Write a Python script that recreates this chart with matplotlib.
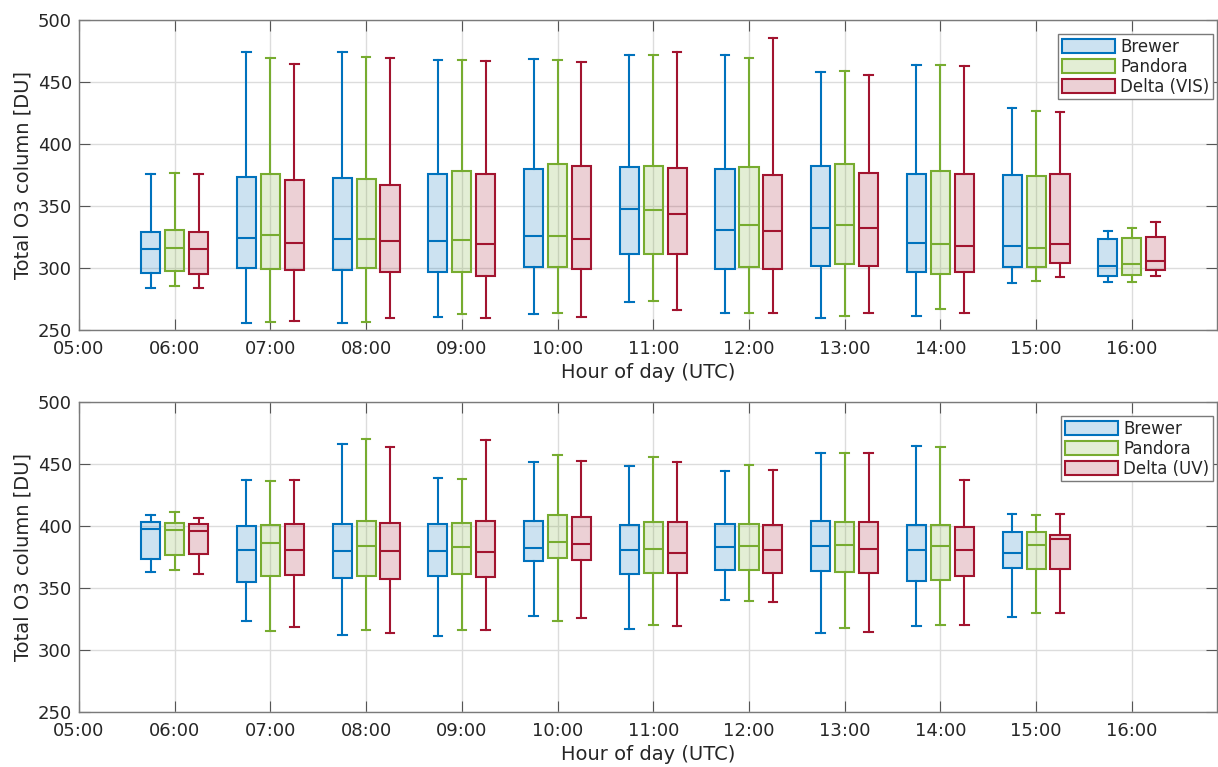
import matplotlib
matplotlib.use("Agg")
import matplotlib.pyplot as plt
from matplotlib.patches import Patch

# ---------------- data (whislo, q1, median, q3, whishi) ----------------
series_names = ["Brewer", "Pandora"]
vis_hours = [6, 7, 8, 9, 10, 11, 12, 13, 14, 15, 16]
uv_hours = [6, 7, 8, 9, 10, 11, 12, 13, 14, 15]

vis_brewer = [
    [284, 296, 315, 329, 375.5],
    [256, 300, 324, 373, 474],
    [256, 298, 323.5, 372.5, 474],
    [260.5, 296.5, 322, 376, 468],
    [262.5, 300.5, 325.5, 380, 468.5],
    [272.5, 311, 347.5, 381.5, 472],
    [263.5, 299, 331, 379.5, 472],
    [260, 302, 332.5, 382.5, 458],
    [261, 296.5, 320.5, 375.5, 464],
    [287.5, 300.5, 317.5, 375, 429],
    [288.5, 293.5, 302, 323, 330],
]
vis_pandora = [
    [285.5, 297.5, 316.5, 331, 376.5],
    [256.5, 299, 326.5, 376, 469.5],
    [256.5, 300, 323.5, 372, 470],
    [262.5, 297, 322.5, 378, 468],
    [264, 300.5, 326, 384, 468],
    [273.5, 311.5, 346.5, 382, 471.5],
    [263.5, 300.5, 334.5, 381.5, 469.5],
    [261.5, 303, 334.5, 383.5, 458.5],
    [267, 295, 319, 378, 463.5],
    [289.5, 301, 316.5, 374.5, 426.5],
    [289, 294, 303.5, 324, 332],
]
vis_delta = [
    [283.5, 295.5, 315, 329, 375.5],
    [257.5, 298, 320, 371, 464.5],
    [259.5, 296.5, 322, 367, 469],
    [260, 293.5, 319.5, 375.5, 467],
    [260.5, 299.5, 323.5, 382, 466.5],
    [266, 311.5, 343.5, 380.5, 474],
    [263.5, 299, 329.5, 375, 485.5],
    [264, 302, 332.5, 376.5, 455.5],
    [264, 297, 318, 375.5, 463],
    [292.5, 304, 319, 376, 425.5],
    [293.5, 298, 305.5, 325, 337],
]

uv_brewer = [
    [363, 373.5, 397.5, 403.5, 409],
    [323, 355, 380.5, 400, 437.5],
    [312.5, 358, 380, 402, 466],
    [311, 359.5, 379.5, 401.5, 439],
    [327.5, 372, 382.5, 404, 451.5],
    [317, 361, 380.5, 400.5, 448.5],
    [340.5, 364.5, 383, 402, 444.5],
    [314, 364, 383.5, 404, 458.5],
    [319, 356, 380.5, 400.5, 464.5],
    [327, 366, 378, 395, 409.5],
]
uv_pandora = [
    [364.5, 376.5, 396.5, 402.5, 411],
    [315.5, 359.5, 386, 401, 436],
    [316, 359.5, 383.5, 404, 470.5],
    [316.5, 361, 383, 402.5, 438],
    [323.5, 374, 387.5, 408.5, 457],
    [320.5, 362.5, 381.5, 403, 456],
    [339.5, 364.5, 384, 402, 449.5],
    [318, 363, 385, 403, 459],
    [320.5, 356.5, 383.5, 401, 463.5],
    [330, 365, 385, 395, 409],
]
uv_delta = [
    [361, 377.5, 396, 402, 406.5],
    [318.5, 360.5, 381, 401.5, 437],
    [313.5, 357, 380, 402.5, 463.5],
    [316, 359, 379, 404, 469.5],
    [326, 372.5, 385.5, 407.5, 452.5],
    [319, 362, 378, 403.5, 452],
    [339, 362, 380.5, 400.5, 445],
    [314.5, 362.5, 381.5, 403, 459],
    [320.5, 360, 380.5, 399, 437.5],
    [329.5, 365.5, 389.5, 393, 410],
]

xtick_hours = [5, 6, 7, 8, 9, 10, 11, 12, 13, 14, 15, 16]
xtick_labels = ["05:00", "06:00", "07:00", "08:00", "09:00", "10:00",
                "11:00", "12:00", "13:00", "14:00", "15:00", "16:00"]
yticks = [250, 300, 350, 400, 450, 500]

colors = ["#0072BD", "#77AC30", "#A2142F"]
offsets = [-0.25, 0.0, 0.25]

# ---------------- figure ----------------
W, H = 1218, 767
plt.rcParams["font.family"] = ["DejaVu Sans"]
fig = plt.figure(figsize=(W / 100, H / 100), dpi=100)

ax_left = 79 / W
ax_w = (1217 - 79) / W
ax_h = 310 / H
ax_top = fig.add_axes([ax_left, (H - 330) / H, ax_w, ax_h])
ax_bot = fig.add_axes([ax_left, (H - 712) / H, ax_w, ax_h])

label_col = "#262626"
spine_col = "#7a7a7a"


def draw_panel(ax, hours, data_list, labels):
    for data, col, off in zip(data_list, colors, offsets):
        stats = []
        for d in data:
            lo, q1, med, q3, hi = d
            stats.append(dict(whislo=lo, q1=q1, med=med, q3=q3, whishi=hi, fliers=[]))
        pos = [h + off for h in hours]
        ax.bxp(stats, positions=pos, widths=0.2, capwidths=0.09,
               showfliers=False, patch_artist=True, manage_ticks=False,
               boxprops=dict(facecolor=matplotlib.colors.to_rgba(col, 0.2),
                             edgecolor=col, linewidth=1.5),
               medianprops=dict(color=col, linewidth=1.5),
               whiskerprops=dict(color=col, linewidth=1.5),
               capprops=dict(color=col, linewidth=1.5))
    ax.set_xlim(5, 16.89)
    ax.set_ylim(250, 500)
    ax.set_xticks(xtick_hours)
    ax.set_xticklabels(xtick_labels)
    ax.set_yticks(yticks)
    ax.grid(True, color="#dcdcdc", linewidth=1.0)
    ax.set_axisbelow(True)
    ax.tick_params(direction="in", length=8, width=0.8, color="#555555",
                   top=True, right=True, labelsize=13, labelcolor=label_col)
    ax.tick_params(axis="x", pad=7)
    ax.tick_params(axis="y", pad=5)
    for sp in ax.spines.values():
        sp.set_color(spine_col)
        sp.set_linewidth(1.0)
    ax.set_xlabel("Hour of day (UTC)", fontsize=14, color=label_col, labelpad=4)
    ax.set_ylabel("Total O3 column [DU]", fontsize=14, color=label_col, labelpad=4)
    handles = [Patch(facecolor=matplotlib.colors.to_rgba(c, 0.2), edgecolor=c, linewidth=1.5)
               for c in colors]
    leg = ax.legend(handles, labels, loc="upper right",
                    bbox_to_anchor=(1 - 4 / 1138, 1 - 14 / 310),
                    borderaxespad=0, fontsize=12, fancybox=False, framealpha=1,
                    edgecolor="#7a7a7a", handlelength=3.2, handleheight=0.95,
                    handletextpad=0.3, labelspacing=0.12, borderpad=0.22)
    leg.get_frame().set_linewidth(1.0)
    for t in leg.get_texts():
        t.set_color(label_col)


draw_panel(ax_top, vis_hours, [vis_brewer, vis_pandora, vis_delta],
           series_names + ["Delta (VIS)"])
draw_panel(ax_bot, uv_hours, [uv_brewer, uv_pandora, uv_delta],
           series_names + ["Delta (UV)"])

fig.savefig("out.png", dpi=100)
